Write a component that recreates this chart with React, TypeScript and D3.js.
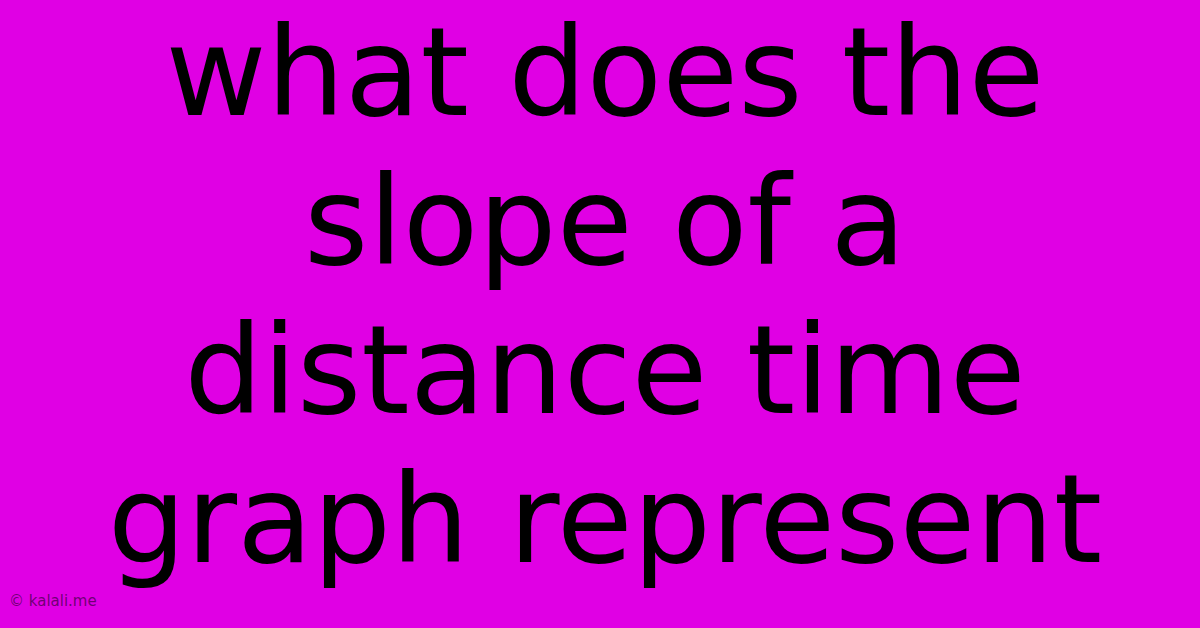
import React from "react";
import * as d3 from "d3";

const titleLines = ["what does the", "slope of a", "distance time", "graph represent"];
const watermark = "© kalali.me";

const W = 1200;
const H = 628;

export default function App() {
  const y = d3.scaleLinear().domain([0, titleLines.length - 1]).range([115, 562]);
  return (
    <svg
      width={W}
      height={H}
      style={{ position: "fixed", left: 0, top: 0, display: "block" }}
      viewBox={`0 0 ${W} ${H}`}
    >
      <rect x={0} y={0} width={W} height={H} fill="#e000e4" />
      {titleLines.map((t, i) => (
        <text
          key={i}
          x={605}
          y={y(i)}
          textAnchor="middle"
          fontFamily="DejaVu Sans"
          fontSize={123.5}
          fill="#000"
        >
          {t}
        </text>
      ))}
      <text x={9} y={606} fontFamily="DejaVu Sans" fontSize={15} fill="#5a005e" fillOpacity={0.85}>
        {watermark}
      </text>
    </svg>
  );
}
